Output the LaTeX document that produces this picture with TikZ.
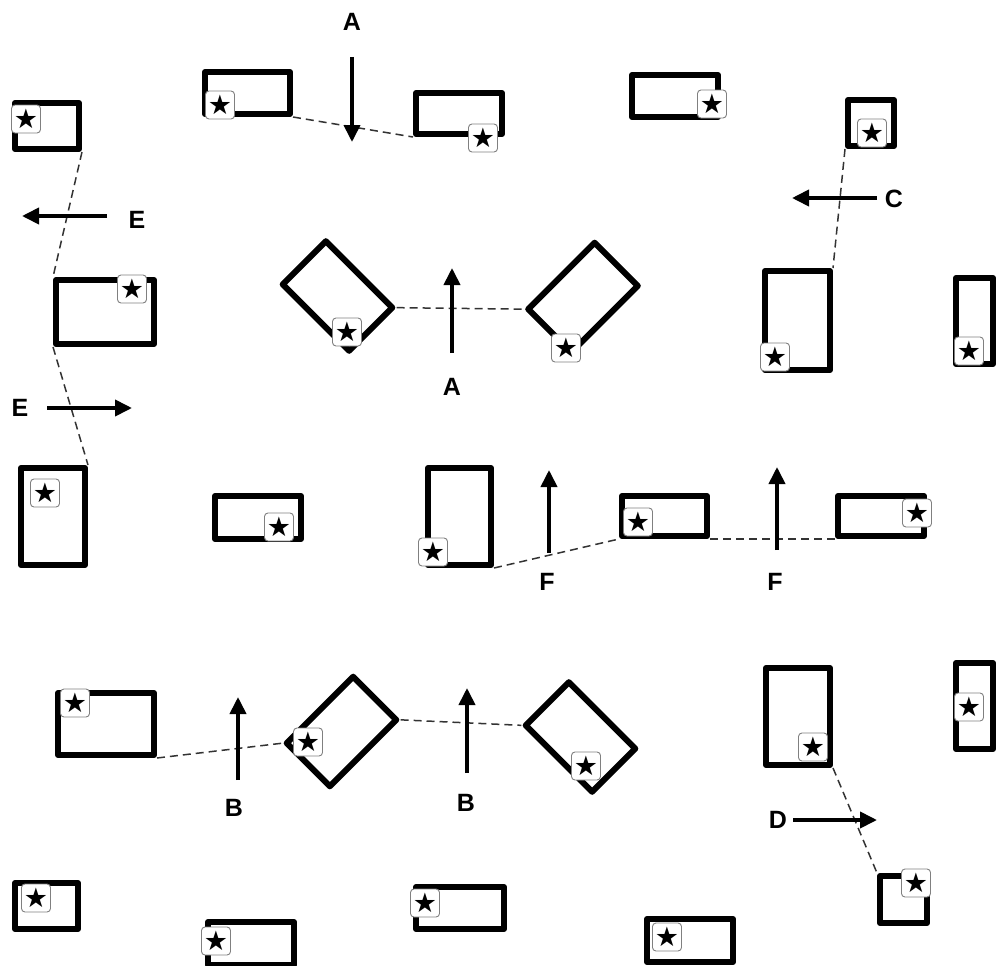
\documentclass[tikz,border=0pt]{standalone}
\usepackage{fontspec}
\setmainfont{Liberation Sans}
\newfontfamily\starfont{DejaVu Sans}
\usetikzlibrary{arrows.meta}
\tikzset{
  rbox/.style={draw=black, line width=6pt, line join=round, inner sep=0pt},
  starbox/.style={draw=black!50, line width=0.9pt, rounded corners=3.5pt, fill=white,
    minimum width=29pt, minimum height=28pt, inner sep=0pt,
    font=\starfont\fontsize{27}{27}\selectfont},
  link/.style={draw=black!80, line width=1.5pt, dash pattern=on 8pt off 5pt},
  dirarrow/.style={line width=3.8pt, -{Triangle[length=17pt,width=16pt]}},
  lbl/.style={font=\bfseries\fontsize{25}{25}\selectfont, inner sep=0pt},
}
\begin{document}
\begin{tikzpicture}[x=1pt,y=-1pt]
\useasboundingbox (0,0) rectangle (996,966);
\clip (0,0) rectangle (996,966);
% rectangles
\node[rbox, minimum width=64pt, minimum height=46pt] (r1) at (47,126) {};
\node[rbox, minimum width=85pt, minimum height=42pt] (r2) at (247.5,93) {};
\node[rbox, minimum width=86pt, minimum height=41pt] (r3) at (459,113.5) {};
\node[rbox, minimum width=86pt, minimum height=42pt] (r4) at (675,96) {};
\node[rbox, minimum width=46pt, minimum height=46pt] (r5) at (871,123) {};
\node[rbox, minimum width=65pt, minimum height=99pt] (r6) at (797.5,320.5) {};
\node[rbox, minimum width=37pt, minimum height=86pt] (r7) at (974.5,321) {};
\node[rbox, minimum width=37pt, minimum height=86pt] (r8) at (974.5,706) {};
\node[rbox, minimum width=98pt, minimum height=64pt] (r9) at (105,312) {};
\node[rbox, minimum width=64pt, minimum height=97pt] (r10) at (53,516.5) {};
\node[rbox, minimum width=86pt, minimum height=43pt] (r12) at (258,517.5) {};
\node[rbox, minimum width=63pt, minimum height=97pt] (r13) at (459.5,516.5) {};
\node[rbox, minimum width=85pt, minimum height=40pt] (r14) at (664.5,516) {};
\node[rbox, minimum width=86pt, minimum height=40pt] (r15) at (881,516) {};
\node[rbox, minimum width=96pt, minimum height=62pt] (r16) at (106,724) {};
\node[rbox, minimum width=64pt, minimum height=97pt] (r17) at (798,716.5) {};
\node[rbox, minimum width=47pt, minimum height=47pt] (r18) at (903.5,899.5) {};
\node[rbox, minimum width=63pt, minimum height=46pt] (r19) at (46.5,906) {};
\node[rbox, minimum width=86pt, minimum height=43pt] (r20) at (251,943.5) {};
\node[rbox, minimum width=88pt, minimum height=42pt] (r21) at (460,908) {};
\node[rbox, minimum width=86pt, minimum height=43pt] (r22) at (690,940.5) {};
% tilted rectangles
\node[rbox, minimum width=94pt, minimum height=61pt, rotate=-45] (d1) at (337.5,296) {};
\node[rbox, minimum width=94pt, minimum height=61pt, rotate=45] (d2) at (583,297.5) {};
\node[rbox, minimum width=94pt, minimum height=61pt, rotate=45] (d3) at (341.5,731.5) {};
\node[rbox, minimum width=94pt, minimum height=61pt, rotate=-45] (d4) at (580.5,737) {};
% dashed links
\draw[link] (r1.south east) -- (r9.north west);
\draw[link] (r9.south west) -- (r10.north east);
\draw[link] (r2.south east) -- (r3.south west);
\draw[link] (r5.south west) -- (r6.north east);
\draw[link] (d1.north east) -- (d2.north west);
\draw[link] (r13.south east) -- (r14.south west);
\draw[link] (r14.south east) -- (r15.south west);
\draw[link] (r16.south east) -- (d3.north west);
\draw[link] (d3.south east) -- (d4.south west);
\draw[link] (r17.south east) -- (r18.north west);
% star boxes
\node[starbox] (s1) at (26,119) {★};
\node[starbox] (s2) at (220,105) {★};
\node[starbox] (s3) at (483,138) {★};
\node[starbox] (s4) at (712,104) {★};
\node[starbox] (s5) at (872,133) {★};
\node[starbox] (s6) at (775,357) {★};
\node[starbox] (s7) at (969,351) {★};
\node[starbox] (s8) at (969,707) {★};
\node[starbox] (s9) at (132,289) {★};
\node[starbox] (s10) at (45,493) {★};
\node[starbox] (sd1) at (347,332) {★};
\node[starbox] (sd2) at (566,348) {★};
\node[starbox] (s12) at (279,527) {★};
\node[starbox] (s13) at (433,552) {★};
\node[starbox] (s14) at (638,522) {★};
\node[starbox] (s15) at (917,513) {★};
\node[starbox] (s16) at (75,703) {★};
\node[starbox] (sd3) at (308,742) {★};
\node[starbox] (sd4) at (586,766) {★};
\node[starbox] (s17) at (813,747) {★};
\node[starbox] (s18) at (916,883) {★};
\node[starbox] (s19) at (36,898) {★};
\node[starbox] (s20) at (216,941) {★};
\node[starbox] (s21) at (425,903) {★};
\node[starbox] (s22) at (667,937) {★};
% direction arrows
\coordinate (a1s) at (352,57);  \coordinate (a1e) at (352,142);
\coordinate (a2s) at (452,353); \coordinate (a2e) at (452,268);
\coordinate (cs) at (877,198);  \coordinate (ce) at (792,198);
\coordinate (e1s) at (107,216); \coordinate (e1e) at (22,216);
\coordinate (e2s) at (47,408);  \coordinate (e2e) at (132,408);
\coordinate (f1s) at (549,553); \coordinate (f1e) at (549,470);
\coordinate (f2s) at (777,550); \coordinate (f2e) at (777,467);
\coordinate (b1s) at (238,780); \coordinate (b1e) at (238,697);
\coordinate (b2s) at (467,773); \coordinate (b2e) at (467,688);
\coordinate (ds) at (793,820);  \coordinate (de) at (877,820);
\draw[dirarrow] (a1s) -- (a1e);
\draw[dirarrow] (a2s) -- (a2e);
\draw[dirarrow] (cs) -- (ce);
\draw[dirarrow] (e1s) -- (e1e);
\draw[dirarrow] (e2s) -- (e2e);
\draw[dirarrow] (f1s) -- (f1e);
\draw[dirarrow] (f2s) -- (f2e);
\draw[dirarrow] (b1s) -- (b1e);
\draw[dirarrow] (b2s) -- (b2e);
\draw[dirarrow] (ds) -- (de);
% labels
\node[lbl] (la1) at (352,22) {A};
\node[lbl] (la2) at (452,387) {A};
\node[lbl] (lc) at (894,199) {C};
\node[lbl] (le1) at (137,220) {E};
\node[lbl] (le2) at (20,408) {E};
\node[lbl] (lf1) at (547,582) {F};
\node[lbl] (lf2) at (775,582) {F};
\node[lbl] (lb1) at (234,808) {B};
\node[lbl] (lb2) at (466,803) {B};
\node[lbl] (ld) at (778,820) {D};
\end{tikzpicture}
\end{document}
